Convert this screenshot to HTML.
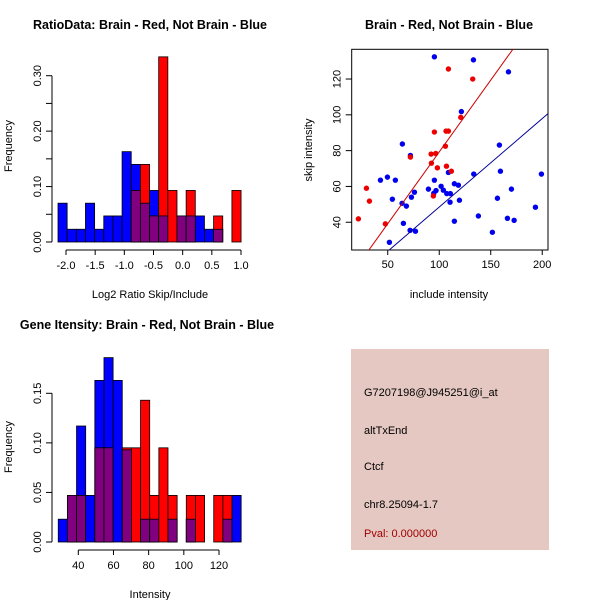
<!DOCTYPE html>
<html><head><meta charset="utf-8"><style>
html,body{margin:0;padding:0;background:#fff}
svg{display:block;font-family:"Liberation Sans",sans-serif}
</style></head><body>
<svg id="s" width="600" height="600" xmlns="http://www.w3.org/2000/svg">
<rect width="600" height="600" fill="#fff"/>
<text x="150" y="29" font-size="12.5" font-weight="bold" text-anchor="middle">RatioData: Brain - Red, Not Brain - Blue</text>
<text x="449" y="29" font-size="12.5" font-weight="bold" text-anchor="middle">Brain - Red, Not Brain - Blue</text>
<text x="147" y="329" font-size="12.5" font-weight="bold" text-anchor="middle">Gene Itensity: Brain - Red, Not Brain - Blue</text>
<text x="150" y="298" font-size="11" text-anchor="middle">Log2 Ratio Skip/Include</text>
<text x="150" y="598" font-size="11" text-anchor="middle">Intensity</text>
<text x="449" y="298" font-size="11" text-anchor="middle">include intensity</text>
<text transform="translate(12,146) rotate(-90)" font-size="11" text-anchor="middle">Frequency</text>
<text transform="translate(12,447) rotate(-90)" font-size="11" text-anchor="middle">Frequency</text>
<text transform="translate(312,150) rotate(-90)" font-size="11" text-anchor="middle">skip intensity</text>
<g>
<rect x="351" y="349" width="198" height="201" fill="#E5C8C1"/>
<text x="364" y="396" font-size="11">G7207198@J945251@i_at</text>
<text x="364" y="434" font-size="11">altTxEnd</text>
<text x="364" y="470" font-size="11">Ctcf</text>
<text x="364" y="508" font-size="11">chr8.25094-1.7</text>
<text x="364" y="537" font-size="11" fill="#A00000">Pval: 0.000000</text>
</g>
</svg>
<script>
// Ratio histogram data
const ratioBreakStart = -2.137;
const ratioBinWidth = 0.1569;
const ratioBlue = [0.07,0.023,0.023,0.07,0.023,0.047,0.047,0.163,0.14,0.07,0.093,0.047,0,0.047,0.047,0.047,0.023,0.023,0,0];
const ratioRed  = [0,0,0,0,0,0,0,0,0.093,0.14,0.047,0.334,0.093,0.047,0.093,0,0,0.047,0,0.093];
const ratioXTicks = [-2.0,-1.5,-1.0,-0.5,0.0,0.5,1.0];
const ratioXLabels = ["-2.0","-1.5","-1.0","-0.5","0.0","0.5","1.0"];
const ratioYTicks = [0,0.05,0.1,0.15,0.2,0.25,0.3];
const ratioYLabels = ["0.00","","0.10","","0.20","","0.30"];
// Intensity histogram data
const intBreakStart = 28.6;
const intBinWidth = 5.2;
const intBlue = [0.023,0.047,0.117,0.047,0.163,0.186,0.163,0.093,0,0.023,0.023,0,0.023,0,0.023,0,0,0,0.023,0.047];
const intRed  = [0,0.047,0.047,0,0.095,0.095,0,0.095,0.095,0.143,0.047,0.095,0.047,0,0.047,0.047,0,0.047,0.047,0];
const intXTicks = [40,60,80,100,120];
const intXLabels = ["40","60","80","100","120"];
const intYTicks = [0,0.05,0.1,0.15];
const intYLabels = ["0.00","0.05","0.10","0.15"];
// Scatter data
const redX = [21.5,29.3,32.2,47.7,72,92.1,96.6,98.2,92.4,95.3,106,106.6,108.9,107,111.8,108.9,120.9,132.5,94.3];
const redY = [41.9,59,51.8,39.1,76.4,78.1,78.4,70.4,73,90.4,82.5,90.9,90.9,71.3,68.5,125.6,98.6,120,54.7];
const blueX = [95.3,133.2,167.2,121.5,64.2,72,158.4,42.9,49.7,57.4,95.3,108.9,133.5,159.4,199.2,54.5,63.9,68.1,73,75.9,89.5,94.7,96.9,101.8,104,107.3,110.8,114.7,118.6,110.5,119.6,170.1,156.5,65.2,71.7,76.9,51.6,114.7,138,151.6,166.2,172.7,193.4];
const blueY = [132.4,130.7,124,101.8,83.7,77.3,83.1,63.5,65.2,63.5,63.5,67.8,66.9,68.5,66.9,52.9,50.6,49,54,56.8,58.5,56.2,57.7,60.1,57.9,56,56,61.5,60.7,51.2,52.3,58.5,53.4,39.4,35.5,35,28.8,40.6,43.5,34.4,42.2,41.1,48.4];
const redLine = [-0.92, 0.802];
const blueLine = [-0.9, 0.494];
const scXTicks = [50,100,150,200];
const scYTicks = [40,60,80,100,120];

const NS = "http://www.w3.org/2000/svg";
const svg = document.getElementById('s');
function mk(tag, attrs, parent){const e=document.createElementNS(NS,tag);for(const k in attrs)e.setAttribute(k,attrs[k]);(parent||svg).appendChild(e);return e;}

function hist(name, x0,x1,d0,d1, y0,y1,v1, start,width, blue,red, xt,xl, yt,yl, axisY, axisX){
  const g = mk('g',{});
  
  
  const sx = v => x0 + (v-d0)/(d1-d0)*(x1-x0);
  const sy = v => y0 - v/v1*(y0-y1);
  for(let i=0;i<blue.length;i++){
    const a=sx(start+i*width), b=sx(start+(i+1)*width);
    const layers=[];
    if(blue[i]>0) layers.push([blue[i],'#0000FF','blue']);
    if(red[i]>0) layers.push([red[i],'#FF0000','red']);
    const m=Math.min(blue[i],red[i]);
    if(m>0) layers.push([m,'#800080','overlap']);
    layers.forEach(L=>{
      const r=mk('rect',{x:a,y:sy(L[0]),width:b-a,height:sy(0)-sy(L[0]),fill:L[1],stroke:'#000','stroke-width':0.8},g);
      
      
    });
  }
  mk('line',{x1:sx(xt[0]),x2:sx(xt[xt.length-1]),y1:axisY,y2:axisY,stroke:'#000'},g);
  xt.forEach((t,i)=>{
    mk('line',{x1:sx(t),x2:sx(t),y1:axisY,y2:axisY+5,stroke:'#000'},g);
    const tx=mk('text',{x:sx(t),y:axisY+19,'font-size':11,'text-anchor':'middle'},g);
    tx.textContent=xl[i];
    
    
  });
  mk('line',{x1:axisX,x2:axisX,y1:sy(yt[0]),y2:sy(yt[yt.length-1]),stroke:'#000'},g);
  yt.forEach((t,i)=>{
    mk('line',{x1:axisX-6,x2:axisX,y1:sy(t),y2:sy(t),stroke:'#000'},g);
    if(yl[i]){
      const tx=mk('text',{'font-size':11,'text-anchor':'middle',transform:`translate(${axisX-11},${sy(t)}) rotate(-90)`},g);
      tx.textContent=yl[i];
      
      
    }
  });
}
hist('ratio-histogram', 66,241,-2,1, 242,75.7,0.3, ratioBreakStart,ratioBinWidth, ratioBlue,ratioRed, ratioXTicks,ratioXLabels, ratioYTicks,ratioYLabels, 250, 52);
hist('intensity-histogram', 78.3,219,40,120, 542,393.3,0.15, intBreakStart,intBinWidth, intBlue,intRed, intXTicks,intXLabels, intYTicks,intYLabels, 550, 52);

(function(){
  const g = mk('g',{});
  
  
  const L=351.7,R=548,T=49.3,B=250;
  const xd0=15,xd1=205.6,yd0=24.5,yd1=136.6;
  const sx=v=>L+(v-xd0)/(xd1-xd0)*(R-L);
  const sy=v=>B-(v-yd0)/(yd1-yd0)*(B-T);
  const box=mk('rect',{x:L,y:T,width:R-L,height:B-T,fill:'none',stroke:'#000'},g);
  
  
  const cp=mk('clipPath',{id:'cp'},g);
  mk('rect',{x:L,y:T,width:R-L,height:B-T},cp);
  blueX.forEach((x,i)=>{
    const c=mk('circle',{cx:sx(x),cy:sy(blueY[i]),r:2.7,fill:'#0000EE'},g);
    
    
  });
  redX.forEach((x,i)=>{
    const c=mk('circle',{cx:sx(x),cy:sy(redY[i]),r:2.7,fill:'#EE0000'},g);
    
    
  });
  [[redLine,'#CC0000','red-fit-line'],[blueLine,'#000099','blue-fit-line']].forEach(([ab,col,nm])=>{
    const l=mk('line',{x1:sx(xd0),y1:sy(ab[0]+ab[1]*xd0),x2:sx(xd1),y2:sy(ab[0]+ab[1]*xd1),stroke:col,'stroke-width':1,'clip-path':'url(#cp)'},g);
    
    
  });
  scXTicks.forEach(t=>{
    mk('line',{x1:sx(t),x2:sx(t),y1:B,y2:B+5,stroke:'#000'},g);
    const tx=mk('text',{x:sx(t),y:B+18,'font-size':11,'text-anchor':'middle'},g);
    tx.textContent=t;
    
    
  });
  scYTicks.forEach(t=>{
    mk('line',{x1:L-6,x2:L,y1:sy(t),y2:sy(t),stroke:'#000'},g);
    const tx=mk('text',{'font-size':11,'text-anchor':'middle',transform:`translate(${L-11},${sy(t)}) rotate(-90)`},g);
    tx.textContent=t;
    
    
  });
})();
</script>
</body></html>
